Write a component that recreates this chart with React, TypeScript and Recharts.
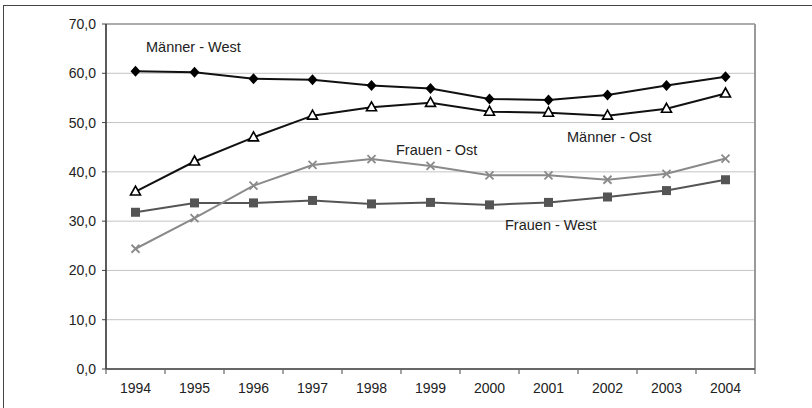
import React from 'react';
import { LineChart, Line, XAxis, YAxis, CartesianGrid, ReferenceLine } from 'recharts';

const years = ['1994', '1995', '1996', '1997', '1998', '1999', '2000', '2001', '2002', '2003', '2004'];
const maennerWest = [60.4, 60.2, 58.9, 58.7, 57.5, 56.9, 54.8, 54.6, 55.6, 57.5, 59.3];
const maennerOst = [36.0, 42.1, 47.0, 51.4, 53.1, 54.0, 52.2, 52.0, 51.4, 52.8, 55.9];
const frauenOst = [24.4, 30.6, 37.2, 41.4, 42.6, 41.2, 39.3, 39.3, 38.4, 39.6, 42.7];
const frauenWest = [31.8, 33.7, 33.7, 34.2, 33.5, 33.8, 33.3, 33.8, 34.9, 36.2, 38.4];
const yTicks = [0, 10, 20, 30, 40, 50, 60, 70];
const seriesLabels = ['Männer - West', 'Männer - Ost', 'Frauen - Ost', 'Frauen - West'];

const data = years.map((y, i) => ({
  idx: i,
  year: y,
  mw: maennerWest[i],
  mo: maennerOst[i],
  fo: frauenOst[i],
  fw: frauenWest[i],
}));

const xTicks = years.map((_, i) => i);

const FONT = '"Liberation Sans", Arial, sans-serif';
const TICK_MARGIN = 14;

const Diamond = (p: any) => {
  const { cx, cy, index } = p;
  if (cx == null || cy == null) return <g key={`mw-${index}`} />;
  return (
    <path
      key={`mw-${index}`}
      d={`M${cx},${cy - 5.5}L${cx + 5},${cy}L${cx},${cy + 5.5}L${cx - 5},${cy}Z`}
      fill="#000"
    />
  );
};

const Triangle = (p: any) => {
  const { cx, cy, index } = p;
  if (cx == null || cy == null) return <g key={`mo-${index}`} />;
  return (
    <path
      key={`mo-${index}`}
      d={`M${cx},${cy - 5.5}L${cx + 5},${cy + 3.5}L${cx - 5},${cy + 3.5}Z`}
      fill="#fff"
      stroke="#000"
      strokeWidth={1.6}
    />
  );
};

const Square = (p: any) => {
  const { cx, cy, index } = p;
  if (cx == null || cy == null) return <g key={`fw-${index}`} />;
  return <rect key={`fw-${index}`} x={cx - 4.5} y={cy - 4.5} width={9} height={9} fill="#555" />;
};

const Cross = (p: any) => {
  const { cx, cy, index } = p;
  if (cx == null || cy == null) return <g key={`fo-${index}`} />;
  return (
    <path
      key={`fo-${index}`}
      d={`M${cx - 4},${cy - 4}L${cx + 4},${cy + 4}M${cx - 4},${cy + 4}L${cx + 4},${cy - 4}`}
      stroke="#8a8a8a"
      strokeWidth={1.8}
      fill="none"
    />
  );
};

const YearTick = (p: any) => {
  const { x, y, width, payload, index } = p;
  const half = width / (2 * years.length);
  const axisY = y - TICK_MARGIN;
  return (
    <g>
      {index === 0 && <line x1={x - half} x2={x - half} y1={axisY} y2={axisY + 5} stroke="#666" strokeWidth={1.2} />}
      <line x1={x + half} x2={x + half} y1={axisY} y2={axisY + 5} stroke="#666" strokeWidth={1.2} />
      <text x={x} y={y} dy="0.71em" textAnchor="middle" fill="#222" fontSize={14} fontFamily={FONT}>
        {years[payload.value]}
      </text>
    </g>
  );
};

const labelStyle = (left: number, centerY: number): React.CSSProperties => ({
  position: 'absolute',
  left,
  top: centerY - 8.5,
  lineHeight: '17px',
  fontSize: 14.5,
  fontFamily: FONT,
  color: '#222',
  whiteSpace: 'nowrap',
});

export default function App() {
  return (
    <div style={{ position: 'absolute', left: 0, top: 0, width: 812, height: 408, background: '#fff', overflow: 'hidden' }}>
      <div
        style={{
          position: 'absolute',
          left: 3,
          top: 5,
          width: 900,
          height: 600,
          borderTop: '1.5px solid #444',
          borderLeft: '1.5px solid #444',
        }}
      />
      <div style={{ position: 'absolute', left: 0, top: 0 }}>
        <LineChart width={812} height={408} data={data} margin={{ top: 24, right: 57, bottom: 0, left: 0 }}>
          <CartesianGrid vertical={false} stroke="#c4c4c4" strokeWidth={1} />
          <XAxis
            dataKey="idx"
            type="number"
            domain={[-0.5, years.length - 0.5]}
            ticks={xTicks}
            interval={0}
            tickLine={false}
            tickSize={0}
            tickMargin={TICK_MARGIN}
            axisLine={{ stroke: '#666', strokeWidth: 2 }}
            tick={<YearTick />}
            height={39}
            allowDataOverflow
          />
          <YAxis
            domain={[0, 70]}
            ticks={yTicks}
            interval={0}
            width={106}
            tickSize={4}
            tickMargin={6}
            tickFormatter={(v: number) => v.toFixed(1).replace('.', ',')}
            tickLine={{ stroke: '#444', strokeWidth: 1 }}
            axisLine={{ stroke: '#333', strokeWidth: 1.6 }}
            tick={{ fill: '#222', fontSize: 14, fontFamily: FONT }}
          />
          <ReferenceLine y={70} stroke="#9a9a9a" strokeWidth={1.6} />
          <ReferenceLine x={years.length - 0.5} stroke="#9a9a9a" strokeWidth={2} />
          <Line dataKey="fw" stroke="#555" strokeWidth={2} dot={Square} activeDot={false} isAnimationActive={false} />
          <Line dataKey="fo" stroke="#8a8a8a" strokeWidth={2} dot={Cross} activeDot={false} isAnimationActive={false} />
          <Line dataKey="mo" stroke="#111" strokeWidth={2} dot={Triangle} activeDot={false} isAnimationActive={false} />
          <Line dataKey="mw" stroke="#111" strokeWidth={2} dot={Diamond} activeDot={false} isAnimationActive={false} />
        </LineChart>
      </div>
      <div style={labelStyle(146, 47)}>{seriesLabels[0]}</div>
      <div style={labelStyle(567, 137.5)}>{seriesLabels[1]}</div>
      <div style={labelStyle(396, 150.5)}>{seriesLabels[2]}</div>
      <div style={labelStyle(505, 225)}>{seriesLabels[3]}</div>
    </div>
  );
}
